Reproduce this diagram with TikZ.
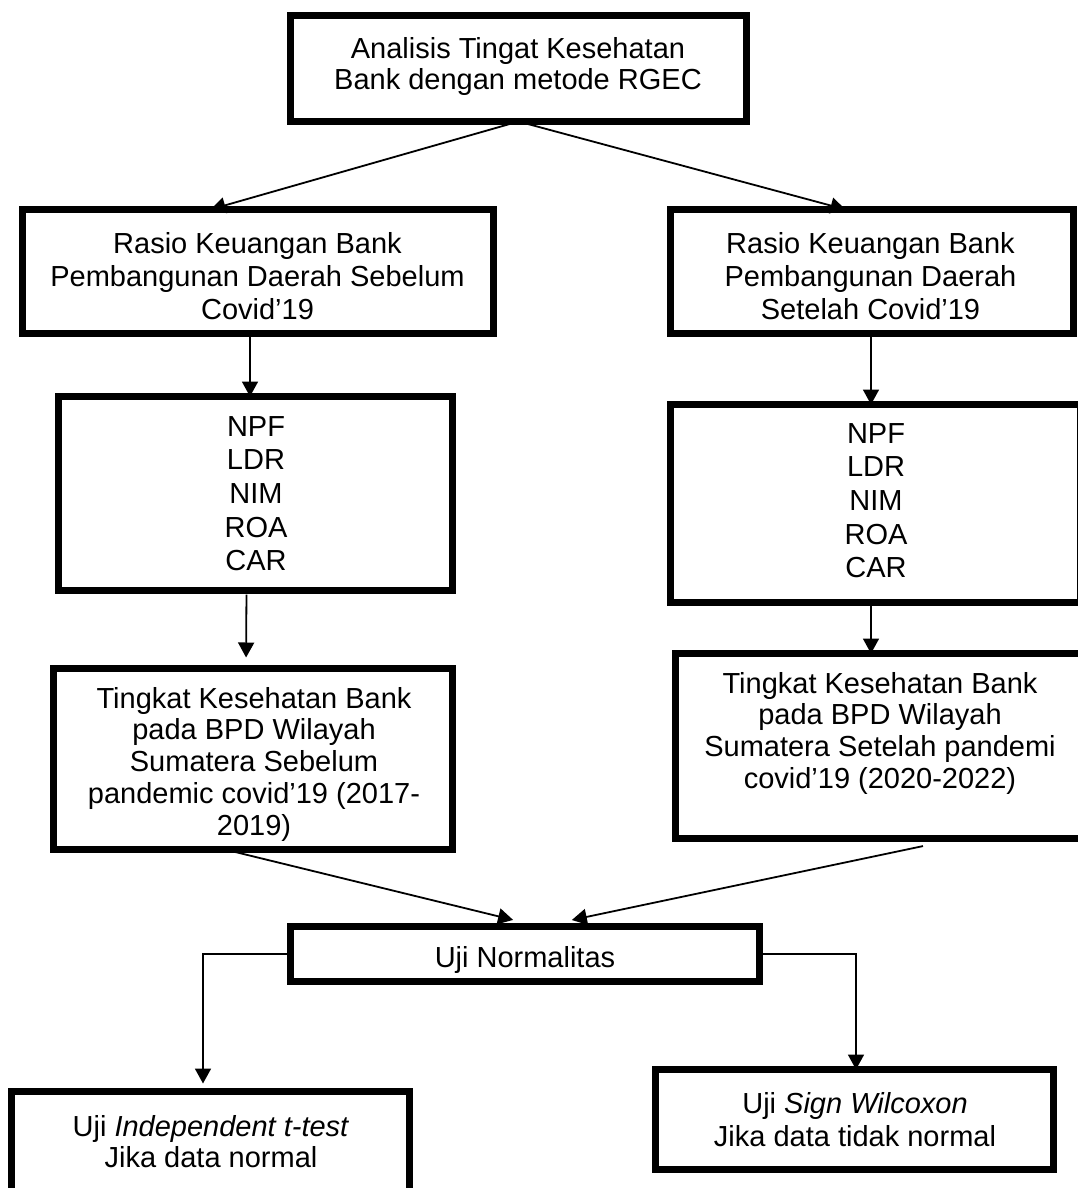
\documentclass[tikz,border=0pt]{standalone}
\usepackage{fontspec}
\setmainfont{Liberation Sans}
\usetikzlibrary{arrows.meta}
\begin{document}
\begin{tikzpicture}[x=1pt,y=-1pt,
  box/.style={draw, line width=7pt, rectangle, inner sep=0pt, outer sep=0pt},
  txt/.style={inner sep=0pt, align=center, anchor=north, font=\fontsize{29}{33.3}\selectfont},
  tight/.style={txt, font=\fontsize{29}{31.7}\selectfont},
  conn/.style={line width=1.8pt, -{Triangle[length=15pt,width=16pt]}}]
\useasboundingbox (0,0) rectangle (1078,1188);
\fill[white] (0,0) rectangle (1078,1188);
\clip (0,0) rectangle (1078,1188);

% boxes
\node[box, minimum width=456pt, minimum height=106pt] (top) at (518.5,68.5) {};
\node[box, minimum width=471pt, minimum height=124pt] (rasioL) at (258,271.5) {};
\node[box, minimum width=403pt, minimum height=124pt] (rasioR) at (872,271.5) {};
\node[box, minimum width=394pt, minimum height=194pt] (npfL) at (255.5,493.5) {};
\node[box, minimum width=410pt, minimum height=198pt] (npfR) at (875.5,503.5) {};
\node[box, minimum width=399pt, minimum height=181pt] (tingL) at (253,759) {};
\node[box, minimum width=413pt, minimum height=185pt] (tingR) at (882,746) {};
\node[box, minimum width=469pt, minimum height=55pt] (uji) at (525,954) {};
\node[box, minimum width=398pt, minimum height=105pt] (indep) at (210.5,1144) {};
\node[box, minimum width=398pt, minimum height=100pt] (wilc) at (854.5,1119.5) {};

% texts
\node[tight] (tTop) at (518,37) {Analisis Tingat Kesehatan\\Bank dengan metode RGEC};
\node[txt] (tRasioL) at (257.5,232) {Rasio Keuangan Bank\\Pembangunan Daerah Sebelum\\Covid’19};
\node[txt] (tRasioR) at (870.5,232) {Rasio Keuangan Bank\\Pembangunan Daerah\\Setelah Covid’19};
\node[txt, font=\fontsize{29}{33.7}\selectfont] (tNpfL) at (256,416) {NPF\\LDR\\NIM\\ROA\\CAR};
\node[txt, font=\fontsize{29}{33.7}\selectfont] (tNpfR) at (876,423) {NPF\\LDR\\NIM\\ROA\\CAR};
\node[tight] (tTingL) at (254,687) {Tingkat Kesehatan Bank\\pada BPD Wilayah\\Sumatera Sebelum\\pandemic covid’19 (2017-\\2019)};
\node[tight] (tTingR) at (880,672) {Tingkat Kesehatan Bank\\pada BPD Wilayah\\Sumatera Setelah pandemi\\covid’19 (2020-2022)};
\node[txt] (tUji) at (525,946) {Uji Normalitas};
\node[tight] (tIndep) at (211,1115) {Uji \textit{Independent t-test}\\Jika data normal};
\node[txt, font=\fontsize{29}{33}\selectfont] (tWilc) at (855,1092) {Uji \textit{Sign Wilcoxon}\\Jika data tidak normal};

% connectors
\draw[conn] (top.south) -- ([xshift=188pt]rasioL.north west);
\draw[conn] (top.south) -- ([xshift=175pt]rasioR.north west);
\draw[conn] ([xshift=-8pt]rasioL.south) -- ([xshift=-5.5pt]npfL.north);
\draw[conn] ([xshift=-1pt]rasioR.south) -- ([xshift=-4.5pt]npfR.north);
\draw[conn, shorten <=4pt, shorten >=11pt] ([xshift=-9pt]npfL.south) -- ([xshift=-7pt]tingL.north);
\draw[conn] ([xshift=-4.5pt]npfR.south) -- ([xshift=-11pt]tingR.north);
\draw[conn, shorten >=27.7pt] ([xshift=-28pt]tingL.south) -- ([xshift=15pt]uji.north);
\draw[conn, shorten <=36.8pt, shorten >=31.5pt] ([xshift=77pt]tingR.south) -- ([xshift=16pt]uji.north);
\draw[conn, shorten >=8pt] (uji.west) -| ([xshift=-7.5pt]indep.north);
\draw[conn] (uji.east) -| ([xshift=1.5pt]wilc.north);
\end{tikzpicture}
\end{document}
